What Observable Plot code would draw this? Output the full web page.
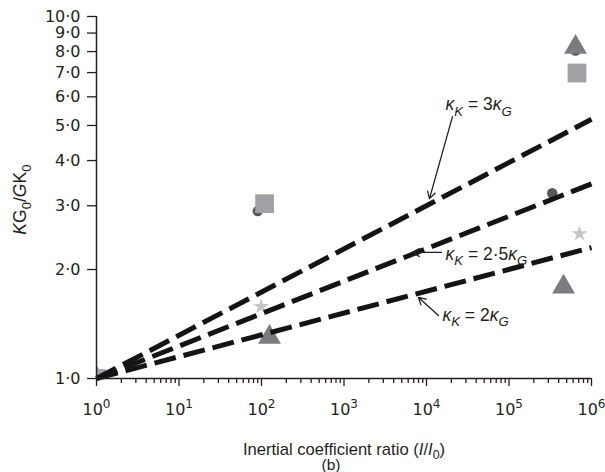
<!DOCTYPE html>
<html>
<head>
<meta charset="utf-8">
<script src="https://cdn.jsdelivr.net/npm/d3@7"></script>
<script src="https://cdn.jsdelivr.net/npm/@observablehq/plot@0.6"></script>
<style>
  html, body { margin: 0; padding: 0; background: #fff; }
</style>
</head>
<body>
<div id="chart"></div>
<script>
// Stiffness ratio KG0/GK0 against the inertial coefficient ratio I/I0 (log–log)

// Axis ticks
const xDecades = [1, 10, 100, 1e3, 1e4, 1e5, 1e6];
const xMinor = d3.range(0, 6).flatMap(e => d3.range(2, 10).map(m => m * 10 ** e));
const yTicks = [1, 2, 3, 4, 5, 6, 7, 8, 9, 10];

// Reference lines κK = n·κG, straight on log–log axes from (1, 1)
const lineNames = ["3", "2·5", "2"];
const lineX = [1, 1e6];
const lineStartY = [1, 1, 1];
const lineEndY = [5.2, 3.45, 2.3];

// Measured points, one list per marker series
const circleX = [1, 90, 334000, 640000];
const circleY = [1, 2.90, 3.25, 8.05];
const starX = [1, 99, 716000];
const starY = [1, 1.58, 2.51];
const triangleX = [1, 125, 458000, 640000];
const triangleY = [1, 1.30, 1.79, 8.23];
const squareX = [1, 109, 667000];
const squareY = [1, 3.04, 6.98];

// Line annotations (text start and arrow tail/tip, in data units)
const noteText = ["*κ*_{*K*} = 3*κ*_{*G*}", "*κ*_{*K*} = 2·5*κ*_{*G*}", "*κ*_{*K*} = 2*κ*_{*G*}"];
const noteX = [17000, 17000, 15600];
const noteY = [5.50, 2.13, 1.446];
const arrowX1 = [20650, 15200, 13970];
const arrowY1 = [5.29, 2.23, 1.493];
const arrowX2 = [10870, 6760, 8000];
const arrowY2 = [3.14, 2.23, 1.674];

// Axis titles, placed in data units (the y title sits left of the frame)
const yTitle = "*K*G_{0}/*G*K_{0}";
const yTitleX = 0.12;
const yTitleY = 3.12;
const xTitle = "Inertial coefficient ratio (*I*/*I*_{0})";
const panelTag = "(b)";

const ink = "#231f20";

const lines = lineNames.flatMap((n, i) => [
  {name: n, x: lineX[0], y: lineStartY[i]},
  {name: n, x: lineX[1], y: lineEndY[i]}
]);
const pts = (xs, ys) => xs.map((x, i) => ({x, y: ys[i]}));
const notes = noteText.map((t, i) => ({t, x: noteX[i], y: noteY[i]}));
const arrows = arrowX1.map((x1, i) => ({x1, y1: arrowY1[i], x2: arrowX2[i], y2: arrowY2[i]}));

const dotStyle = {x: "x", y: "y", clip: true};

const chart = Plot.plot({
  width: 605,
  height: 472,
  marginLeft: 96,
  marginRight: 14,
  marginTop: 16,
  marginBottom: 94,
  style: {fontFamily: "'Liberation Sans', Arial, sans-serif", fontSize: "16px", color: ink, background: "#fff"},
  x: {type: "log", domain: [1, 1e6]},
  y: {type: "log", domain: [1, 10]},
  marks: [
    Plot.dot(pts(circleX, circleY), {...dotStyle, symbol: "circle", r: 5.2, fill: "#58585b"}),
    Plot.dot(pts(starX, starY), {...dotStyle, symbol: "star", r: 5, fill: "#c6c6c8"}),
    Plot.dot(pts(triangleX, triangleY), {...dotStyle, symbol: "triangle", r: 8.5, fill: "#7c7c7f"}),
    Plot.dot(pts(squareX, squareY), {...dotStyle, symbol: "square", r: 10.6, fill: "#a2a2a6"}),
    Plot.line(lines, {x: "x", y: "y", z: "name", stroke: "#141414", strokeWidth: 5, strokeDasharray: "22,8", strokeLinecap: "butt"}),
    Plot.arrow(arrows, {x1: "x1", y1: "y1", x2: "x2", y2: "y2", stroke: ink, strokeWidth: 1.3, headLength: 9}),
    Plot.text(notes, {x: "x", y: "y", text: "t", textAnchor: "start", lineAnchor: "bottom", fontSize: 17.5, fill: ink}),
    Plot.ruleX([1], {stroke: ink, strokeWidth: 1.5}),
    Plot.ruleY([1], {stroke: ink, strokeWidth: 1.5}),
    Plot.axisX({ticks: xDecades, tickSize: 8, tickPadding: 17, tickFormat: d => `10^{${Math.round(Math.log10(d))}}`, label: null, strokeWidth: 1.3}),
    Plot.axisX({ticks: xMinor, tickSize: 5, tickFormat: () => "", label: null, strokeWidth: 1.3}),
    Plot.axisY({ticks: yTicks, tickSize: 9, tickPadding: 7, tickFormat: d => `${d}·0`, label: null, strokeWidth: 1.3}),
    Plot.text([{t: yTitle, x: yTitleX, y: yTitleY}], {x: "x", y: "y", text: "t", textAnchor: "middle", lineAnchor: "middle", rotate: -90, fontSize: 17.5, fill: ink}),
    Plot.text([xTitle], {frameAnchor: "bottom", lineAnchor: "bottom", dy: 76, fontSize: 16.6, fill: ink}),
    Plot.text([panelTag], {frameAnchor: "bottom", lineAnchor: "bottom", dy: 91, dx: -13, fontSize: 15.5, fill: ink})
  ]
});

// Tick labels use a wider sans face
d3.select(chart).selectAll('g[aria-label="x-axis tick label"], g[aria-label="y-axis tick label"]')
  .attr("font-family", "'DejaVu Sans', sans-serif")
  .attr("font-size", 16);

document.getElementById("chart").appendChild(chart);

// Turn the small markup (*italic*, _{sub}, ^{sup}) into tspans
function richText(el) {
  const src = el.textContent;
  if (!/[*_^]/.test(src)) return;
  const base = parseFloat(getComputedStyle(el).fontSize) || 16;
  const segs = [];
  let italic = false, shift = 0, buf = "";
  const push = () => { if (buf) segs.push({t: buf, italic, shift}); buf = ""; };
  for (let i = 0; i < src.length; i++) {
    const c = src[i];
    if (c === "*") { push(); italic = !italic; }
    else if ((c === "_" || c === "^") && src[i + 1] === "{") { push(); shift = c === "_" ? 1 : -1; i++; }
    else if (c === "}" && shift) { push(); shift = 0; }
    else buf += c;
  }
  push();
  el.textContent = "";
  let offset = 0;
  for (const s of segs) {
    const ts = document.createElementNS("http://www.w3.org/2000/svg", "tspan");
    const target = s.shift === 1 ? base * 0.3 : s.shift === -1 ? -base * 0.42 : 0;
    ts.setAttribute("dy", (target - offset).toFixed(2));
    offset = target;
    if (s.shift) ts.setAttribute("font-size", (base * 0.75).toFixed(2));
    if (s.italic) ts.setAttribute("font-style", "italic");
    ts.textContent = s.t;
    el.appendChild(ts);
  }
}
chart.querySelectorAll("text").forEach(richText);
</script>
</body>
</html>
